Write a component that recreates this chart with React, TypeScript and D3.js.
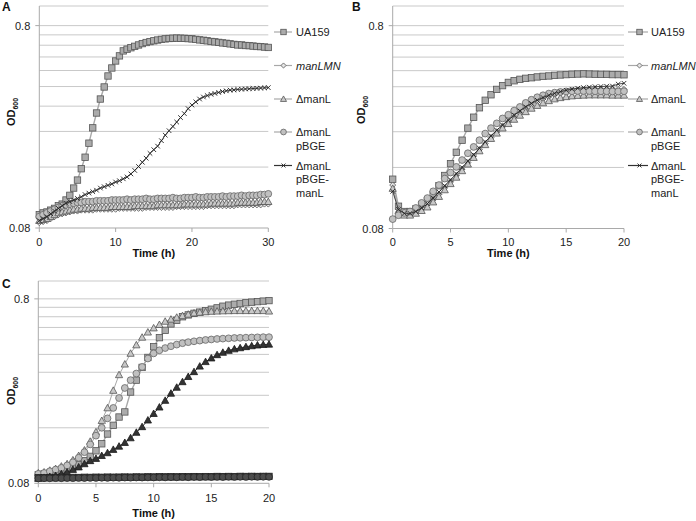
import React from "react";
import * as d3 from "d3";

// ---------- DATA ----------
const timesA = d3.range(61).map((i) => i * 0.5); // 0..30 h
const timesBC = d3.range(41).map((i) => i * 0.5); // 0..20 h

const yLabels = ["0.08", "0.8"];
const gridValues = [0.16, 0.24, 0.32, 0.4, 0.48, 0.56, 0.64, 0.72, 0.8];
const xTicksA = [0, 10, 20, 30];
const xTicksBC = [0, 5, 10, 15, 20];

// Panel A
const aUA159 = [
  0.093, 0.095, 0.096, 0.098, 0.1, 0.103, 0.105, 0.11, 0.116, 0.126,
  0.138, 0.157, 0.179, 0.21, 0.25, 0.296, 0.347, 0.398, 0.451, 0.494,
  0.535, 0.567, 0.6, 0.612, 0.622, 0.632, 0.642, 0.652, 0.66, 0.667,
  0.673, 0.679, 0.684, 0.688, 0.691, 0.693, 0.694, 0.693, 0.692, 0.69,
  0.688, 0.684, 0.68, 0.677, 0.673, 0.668, 0.665, 0.661, 0.657, 0.654,
  0.65, 0.646, 0.642, 0.642, 0.638, 0.637, 0.634, 0.631, 0.63, 0.627,
  0.624,
];
const aManLMN = [
  0.085, 0.086, 0.087, 0.089, 0.091, 0.093, 0.094, 0.095, 0.096, 0.097,
  0.097, 0.098, 0.098, 0.098, 0.098, 0.099, 0.099, 0.099, 0.099, 0.099,
  0.099, 0.1, 0.1, 0.1, 0.1, 0.1, 0.1, 0.1, 0.101, 0.101,
  0.101, 0.101, 0.101, 0.101, 0.101, 0.101, 0.102, 0.102, 0.102, 0.102,
  0.102, 0.102, 0.102, 0.102, 0.103, 0.103, 0.103, 0.103, 0.103, 0.103,
  0.103, 0.103, 0.104, 0.104, 0.104, 0.104, 0.104, 0.104, 0.104, 0.105,
  0.105,
];
const aManL = [
  0.087, 0.088, 0.089, 0.091, 0.093, 0.095, 0.096, 0.097, 0.098, 0.099,
  0.099, 0.1, 0.1, 0.1, 0.101, 0.101, 0.101, 0.101, 0.101, 0.102,
  0.102, 0.102, 0.102, 0.102, 0.102, 0.103, 0.103, 0.103, 0.103, 0.103,
  0.103, 0.104, 0.104, 0.104, 0.104, 0.104, 0.104, 0.104, 0.105, 0.105,
  0.105, 0.105, 0.105, 0.105, 0.105, 0.106, 0.106, 0.106, 0.106, 0.106,
  0.106, 0.106, 0.107, 0.107, 0.107, 0.107, 0.107, 0.107, 0.108, 0.108,
  0.108,
];
const aPBGE = [
  0.091, 0.093, 0.095, 0.097, 0.099, 0.101, 0.103, 0.104, 0.105, 0.106,
  0.107, 0.107, 0.108, 0.108, 0.108, 0.109, 0.109, 0.109, 0.109, 0.11,
  0.11, 0.11, 0.11, 0.111, 0.11, 0.111, 0.111, 0.111, 0.112, 0.111,
  0.111, 0.112, 0.112, 0.112, 0.112, 0.113, 0.112, 0.112, 0.113, 0.113,
  0.113, 0.114, 0.113, 0.113, 0.114, 0.114, 0.114, 0.114, 0.115, 0.114,
  0.115, 0.115, 0.115, 0.116, 0.115, 0.116, 0.116, 0.116, 0.117, 0.117,
  0.118,
];
const aPBGEmanL = [
  0.087, 0.089, 0.091, 0.094, 0.097, 0.1, 0.103, 0.106, 0.108, 0.11,
  0.112, 0.114, 0.117, 0.119, 0.121, 0.123, 0.126, 0.128, 0.13, 0.132,
  0.135, 0.137, 0.14, 0.143, 0.148, 0.154, 0.161, 0.169, 0.177, 0.187,
  0.195, 0.203, 0.216, 0.23, 0.242, 0.254, 0.267, 0.281, 0.294, 0.311,
  0.324, 0.336, 0.347, 0.355, 0.361, 0.366, 0.37, 0.374, 0.378, 0.381,
  0.384, 0.385, 0.387, 0.388, 0.389, 0.39, 0.391, 0.392, 0.393, 0.394,
  0.395,
];

// Panel B
const bUA159 = [
  0.14, 0.103, 0.097, 0.097, 0.1, 0.105, 0.11, 0.117, 0.13, 0.146,
  0.167, 0.19, 0.218, 0.25, 0.283, 0.315, 0.343, 0.365, 0.388, 0.405,
  0.42, 0.428, 0.435, 0.44, 0.443, 0.447, 0.45, 0.452, 0.455, 0.457,
  0.459, 0.461, 0.462, 0.463, 0.462, 0.461, 0.46, 0.46, 0.459, 0.459,
  0.458,
];
const bManLMN = [
  0.131, 0.1, 0.096, 0.095, 0.097, 0.1, 0.105, 0.111, 0.118, 0.127,
  0.136, 0.146, 0.157, 0.169, 0.182, 0.196, 0.21, 0.225, 0.24, 0.255,
  0.27, 0.284, 0.298, 0.312, 0.325, 0.337, 0.348, 0.357, 0.365, 0.371,
  0.376, 0.38, 0.383, 0.385, 0.386, 0.387, 0.387, 0.388, 0.388, 0.388,
  0.388,
];
const bManL = [
  0.126, 0.098, 0.093, 0.093, 0.095, 0.098, 0.102, 0.108, 0.115, 0.124,
  0.133, 0.143, 0.154, 0.166, 0.179, 0.193, 0.207, 0.222, 0.236, 0.25,
  0.263, 0.276, 0.289, 0.301, 0.313, 0.323, 0.333, 0.341, 0.348, 0.353,
  0.357, 0.36, 0.362, 0.363, 0.364, 0.364, 0.364, 0.364, 0.363, 0.363,
  0.363,
];
const bPBGE = [
  0.089, 0.093, 0.0955, 0.097, 0.101, 0.107, 0.113, 0.122, 0.131, 0.141,
  0.151, 0.161, 0.174, 0.188, 0.202, 0.218, 0.235, 0.25, 0.264, 0.279,
  0.291, 0.305, 0.318, 0.333, 0.345, 0.355, 0.363, 0.37, 0.374, 0.377,
  0.379, 0.38, 0.381, 0.381, 0.381, 0.38, 0.38, 0.38, 0.379, 0.379,
  0.38,
];
const bPBGEmanL = [
  0.122, 0.099, 0.095, 0.095, 0.097, 0.101, 0.106, 0.113, 0.121, 0.13,
  0.139, 0.149, 0.16, 0.172, 0.185, 0.199, 0.214, 0.229, 0.244, 0.259,
  0.274, 0.289, 0.304, 0.318, 0.331, 0.343, 0.354, 0.363, 0.371, 0.378,
  0.384, 0.389, 0.393, 0.396, 0.398, 0.4, 0.401, 0.402, 0.403, 0.412,
  0.416,
];

// Panel C
const cGraySquares = [
  0.089, 0.09, 0.091, 0.092, 0.094, 0.096, 0.098, 0.101, 0.106, 0.112,
  0.12, 0.131, 0.148, 0.165, 0.183, 0.195, 0.25, 0.29, 0.34, 0.385,
  0.44, 0.493, 0.54, 0.585, 0.612, 0.64, 0.655, 0.668, 0.678, 0.69,
  0.703, 0.715, 0.73, 0.74, 0.748, 0.755, 0.762, 0.768, 0.773, 0.778,
  0.783,
];
const cGrayTriangles = [
  0.091, 0.092, 0.094, 0.096, 0.099, 0.102, 0.107, 0.113, 0.121, 0.135,
  0.152, 0.175, 0.205, 0.255, 0.31, 0.354, 0.405, 0.45, 0.495, 0.528,
  0.556, 0.58, 0.604, 0.62, 0.635, 0.648, 0.66, 0.67, 0.676, 0.68,
  0.684, 0.686, 0.688, 0.689, 0.69, 0.69, 0.69, 0.69, 0.69, 0.69,
  0.686,
];
const cGrayCircles = [
  0.09, 0.091, 0.093, 0.095, 0.097, 0.1, 0.104, 0.11, 0.118, 0.13,
  0.145, 0.16, 0.18, 0.205, 0.232, 0.263, 0.29, 0.315, 0.342, 0.38,
  0.405, 0.421, 0.433, 0.443, 0.452, 0.46, 0.466, 0.471, 0.475, 0.479,
  0.482, 0.485, 0.487, 0.489, 0.491, 0.492, 0.493, 0.494, 0.495, 0.496,
  0.496,
];
const cBlackTriangles = [
  0.085, 0.086, 0.087, 0.088, 0.09, 0.092, 0.095, 0.098, 0.102, 0.106,
  0.109, 0.113, 0.117, 0.122, 0.127, 0.133, 0.141, 0.151, 0.162, 0.176,
  0.191, 0.207, 0.225, 0.246, 0.265, 0.284, 0.303, 0.322, 0.345, 0.365,
  0.382, 0.398, 0.41, 0.42, 0.428, 0.434, 0.44, 0.445, 0.449, 0.452,
  0.454,
];
const cDarkCircles = [
  0.085, 0.0852, 0.0851, 0.0853, 0.0852, 0.0854, 0.0853, 0.0855, 0.0854, 0.0856,
  0.0855, 0.0857, 0.0856, 0.0858, 0.0857, 0.0859, 0.0858, 0.086, 0.0859, 0.0861,
  0.086, 0.0862, 0.0861, 0.0863, 0.0862, 0.0864, 0.0863, 0.0865, 0.0864, 0.0866,
  0.0865, 0.0866, 0.0865, 0.0867, 0.0866, 0.0867, 0.0866, 0.0868, 0.0867, 0.0868,
  0.0867,
];
const cDarkSquares = [
  0.0858, 0.0857, 0.0859, 0.0858, 0.086, 0.0859, 0.0861, 0.086, 0.0862, 0.0861,
  0.0863, 0.0862, 0.0864, 0.0863, 0.0864, 0.0865, 0.0864, 0.0866, 0.0865, 0.0867,
  0.0866, 0.0868, 0.0867, 0.0868, 0.0867, 0.0869, 0.0868, 0.087, 0.0869, 0.087,
  0.0869, 0.0871, 0.087, 0.0871, 0.087, 0.0872, 0.0871, 0.0872, 0.0871, 0.0872,
  0.0872,
];

const legendNames = [["UA159"], ["manLMN"], ["\u0394manL"], ["\u0394manL", "pBGE"], ["\u0394manL", "pBGE-", "manL"]];

// ---------- STYLES ----------
type Marker = "square" | "diamond" | "triangle" | "circle" | "x";
interface Style { marker: Marker; fill: string; stroke: string; line: string; lw: number; }

const sSquare: Style = { marker: "square", fill: "#ababab", stroke: "#555", line: "#a8a8a8", lw: 1.4 };
const sDiamond: Style = { marker: "diamond", fill: "#e6e6e6", stroke: "#555", line: "#a8a8a8", lw: 1 };
const sTriangle: Style = { marker: "triangle", fill: "#c8c8c8", stroke: "#555", line: "#a8a8a8", lw: 1 };
const sCircle: Style = { marker: "circle", fill: "#c0c0c0", stroke: "#666", line: "#a8a8a8", lw: 1 };
const sX: Style = { marker: "x", fill: "none", stroke: "#222", line: "#333", lw: 0.9 };
const sBlackTri: Style = { marker: "triangle", fill: "#333", stroke: "#1a1a1a", line: "#333", lw: 1 };
const sDarkCircle: Style = { marker: "circle", fill: "#4d4d4d", stroke: "#262626", line: "#444", lw: 1 };
const sDarkSquare: Style = { marker: "square", fill: "#444", stroke: "#222", line: "#444", lw: 1 };

const legendStyles = [sSquare, sDiamond, sTriangle, sCircle, sX];

function MarkerShape({ x, y, st, s = 1 }: { x: number; y: number; st: Style; s?: number }) {
  switch (st.marker) {
    case "square": {
      const h = 3.2 * s;
      return <rect x={x - h} y={y - h} width={2 * h} height={2 * h} fill={st.fill} stroke={st.stroke} strokeWidth={0.8} />;
    }
    case "circle":
      return <circle cx={x} cy={y} r={3.4 * s} fill={st.fill} stroke={st.stroke} strokeWidth={0.8} />;
    case "triangle": {
      const h = 3.6 * s;
      return (
        <path d={`M${x},${y - h}L${x + h},${y + h * 0.8}L${x - h},${y + h * 0.8}Z`} fill={st.fill} stroke={st.stroke} strokeWidth={0.8} />
      );
    }
    case "diamond": {
      const h = 3.0 * s;
      return <path d={`M${x},${y - h}L${x + h},${y}L${x},${y + h}L${x - h},${y}Z`} fill={st.fill} stroke={st.stroke} strokeWidth={0.8} />;
    }
    case "x": {
      const h = 2.3 * s;
      return (
        <path d={`M${x - h},${y - h}L${x + h},${y + h}M${x - h},${y + h}L${x + h},${y - h}`} stroke={st.stroke} strokeWidth={0.9} fill="none" />
      );
    }
  }
  return null;
}

interface PanelProps {
  letter: string;
  letterPos: [number, number];
  xr: [number, number];
  yr: [number, number];
  xMax: number;
  xTicks: number[];
  times: number[];
  series: { values: number[]; st: Style }[];
  xLabelY: number;
  titleY: number;
  odX: number;
  odY: number;
  legend?: { dash: [number, number]; mx: number; tx: number; ys: number[] };
}

const FONT = "'Liberation Sans', Arial, Helvetica, sans-serif";

function Panel(p: PanelProps) {
  const x = d3.scaleLinear().domain([0, p.xMax]).range(p.xr);
  const y = d3.scaleLog().domain([0.08, 1.0]).range(p.yr);
  const line = d3
    .line<number>()
    .x((_, i) => x(p.times[i]))
    .y((d) => y(d));
  const axX = p.xr[0];
  const right = p.xr[1];
  return (
    <g>
      <text x={p.letterPos[0]} y={p.letterPos[1]} fontFamily={FONT} fontWeight="bold" fontSize={12} fill="#111">
        {p.letter}
      </text>
      {/* gridlines */}
      {gridValues.map((g) => (
        <line key={g} x1={axX} x2={right} y1={y(g)} y2={y(g)} stroke="#c9c9c9" strokeWidth={1} />
      ))}
      <line x1={axX} x2={right} y1={y(1.0)} y2={y(1.0)} stroke="#c9c9c9" strokeWidth={1} />
      {/* axes */}
      <line x1={axX} x2={axX} y1={y(1.0)} y2={y(0.08)} stroke="#a9a9a9" strokeWidth={1} />
      <line x1={axX} x2={right} y1={y(0.08)} y2={y(0.08)} stroke="#a9a9a9" strokeWidth={1} />
      {[0.08, 0.8].map((v) => (
        <line key={v} x1={axX - 4} x2={axX} y1={y(v)} y2={y(v)} stroke="#a9a9a9" strokeWidth={1} />
      ))}
      {p.xTicks.map((t) => (
        <line key={t} x1={x(t)} x2={x(t)} y1={y(0.08)} y2={y(0.08) + 4} stroke="#a9a9a9" strokeWidth={1} />
      ))}
      {/* y tick labels */}
      {yLabels.map((l) => (
        <text key={l} x={axX - 9} y={y(+l) + 4} textAnchor="end" fontFamily={FONT} fontSize={11} fill="#222">
          {l}
        </text>
      ))}
      {p.xTicks.map((t) => (
        <text key={t} x={x(t)} y={p.xLabelY} textAnchor="middle" fontFamily={FONT} fontSize={11} fill="#222">
          {t}
        </text>
      ))}
      <text x={(axX + right) / 2} y={p.titleY} textAnchor="middle" fontFamily={FONT} fontWeight="bold" fontSize={11} fill="#111">
        Time (h)
      </text>
      <text
        transform={`translate(${p.odX},${p.odY}) rotate(-90)`}
        textAnchor="middle"
        fontFamily={FONT}
        fontWeight="bold"
        fontSize={11}
        fill="#111"
      >
        OD
        <tspan fontSize={7} dy={3}>
          600
        </tspan>
      </text>
      {/* series */}
      {p.series.map((s, si) => (
        <g key={si}>
          <path d={line(s.values) || ""} fill="none" stroke={s.st.line} strokeWidth={s.st.lw} />
          {s.values.map((v, i) => (
            <MarkerShape key={i} x={x(p.times[i])} y={y(v)} st={s.st} />
          ))}
        </g>
      ))}
      {/* legend */}
      {p.legend &&
        legendNames.map((lines, i) => {
          const st = legendStyles[i];
          const ly = p.legend!.ys[i];
          return (
            <g key={i}>
              <line x1={p.legend!.dash[0]} x2={p.legend!.dash[1]} y1={ly} y2={ly} stroke={st.line} strokeWidth={1.2} />
              <MarkerShape x={p.legend!.mx} y={ly} st={st} s={0.85} />
              {lines.map((t, j) => (
                <text
                  key={j}
                  x={p.legend!.tx}
                  y={ly + 4 + j * 13.5}
                  fontFamily={FONT}
                  fontSize={11}
                  fontStyle={i === 1 ? "italic" : "normal"}
                  fill="#222"
                >
                  {t}
                </text>
              ))}
            </g>
          );
        })}
    </g>
  );
}

export default function App() {
  const legendYs = [32, 65.5, 99, 132, 165.5];
  return (
    <svg width={696} height={521} style={{ position: "absolute", left: 0, top: 0, background: "#fff" }}>
      <rect width={696} height={521} fill="#fff" />
      <Panel
        letter="A"
        letterPos={[2, 11]}
        xr={[39.3, 268.3]}
        yr={[228, 6]}
        xMax={30}
        xTicks={xTicksA}
        times={timesA}
        series={[
          { values: aUA159, st: sSquare },
          { values: aManLMN, st: sDiamond },
          { values: aManL, st: sTriangle },
          { values: aPBGE, st: sCircle },
          { values: aPBGEmanL, st: sX },
        ]}
        xLabelY={245.5}
        titleY={256.5}
        odX={15}
        odY={112}
        legend={{ dash: [274, 292], mx: 283.5, tx: 296, ys: legendYs }}
      />
      <Panel
        letter="B"
        letterPos={[352, 11]}
        xr={[392.7, 624]}
        yr={[228.5, 6]}
        xMax={20}
        xTicks={xTicksBC}
        times={timesBC}
        series={[
          { values: bUA159, st: sSquare },
          { values: bManLMN, st: sDiamond },
          { values: bManL, st: sTriangle },
          { values: bPBGE, st: sCircle },
          { values: bPBGEmanL, st: sX },
        ]}
        xLabelY={245.5}
        titleY={256.5}
        odX={365}
        odY={110}
        legend={{ dash: [628, 648], mx: 639.5, tx: 651, ys: legendYs }}
      />
      <Panel
        letter="C"
        letterPos={[2, 288]}
        xr={[38.3, 269]}
        yr={[483.3, 281]}
        xMax={20}
        xTicks={xTicksBC}
        times={timesBC}
        series={[
          { values: cGraySquares, st: sSquare },
          { values: cGrayTriangles, st: sTriangle },
          { values: cGrayCircles, st: sCircle },
          { values: cBlackTriangles, st: sBlackTri },
          { values: cDarkSquares, st: sDarkSquare },
          { values: cDarkCircles, st: sDarkCircle },
        ]}
        xLabelY={502}
        titleY={516.5}
        odX={15}
        odY={391}
        legend={undefined}
      />
    </svg>
  );
}
